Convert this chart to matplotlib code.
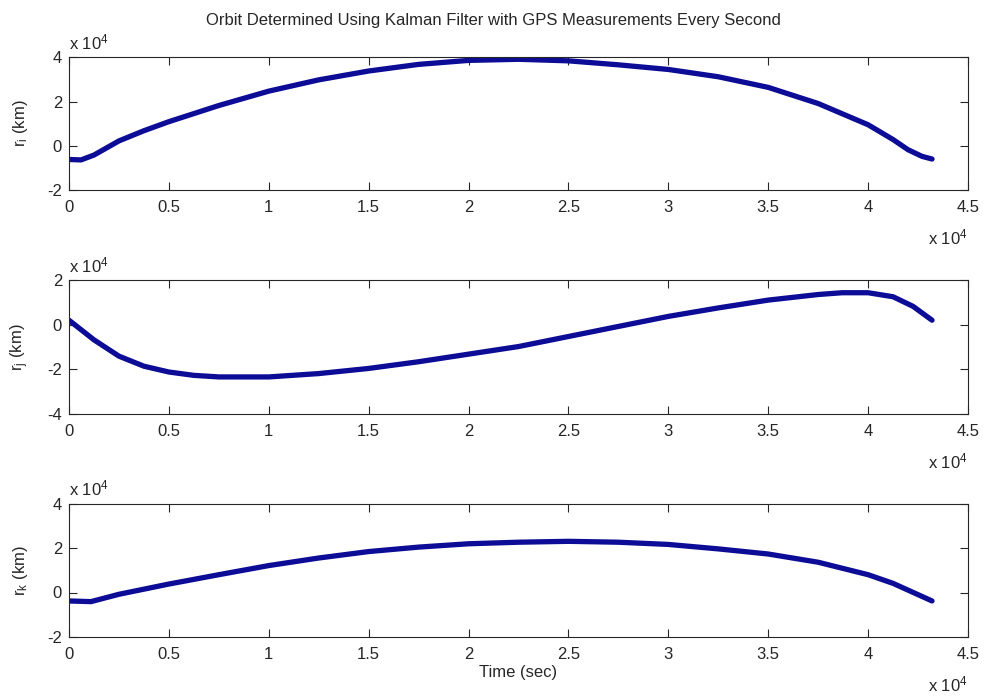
import numpy as np
import matplotlib
matplotlib.use("Agg")
import matplotlib.pyplot as plt
from matplotlib.transforms import offset_copy

plt.rcParams['font.family'] = ['Liberation Sans', 'DejaVu Sans']
plt.rcParams['mathtext.fontset'] = 'custom'
plt.rcParams['mathtext.rm'] = 'Liberation Sans'
plt.rcParams['mathtext.it'] = 'Liberation Sans'

# time in units of 1e4 s
t_i = [0.0, 0.06, 0.125, 0.25, 0.375, 0.5, 0.75, 1.0, 1.25, 1.5, 1.75, 2.0, 2.25,
       2.5, 2.75, 3.0, 3.25, 3.5, 3.75, 4.0, 4.125, 4.2, 4.27, 4.32]
r_i = [-0.62, -0.64, -0.42, 0.22, 0.68, 1.09, 1.82, 2.47, 2.98, 3.38, 3.68, 3.86, 3.91,
       3.84, 3.66, 3.45, 3.12, 2.64, 1.91, 0.95, 0.28, -0.18, -0.48, -0.6]

t_j = [0.0, 0.125, 0.25, 0.375, 0.5, 0.625, 0.75, 1.0, 1.25, 1.5, 1.75, 2.0, 2.25,
       2.5, 2.75, 3.0, 3.25, 3.5, 3.75, 3.87, 4.0, 4.125, 4.225, 4.32]
r_j = [0.2, -0.68, -1.41, -1.86, -2.12, -2.27, -2.34, -2.34, -2.19, -1.96, -1.66, -1.32, -0.98,
       -0.53, -0.08, 0.37, 0.75, 1.10, 1.35, 1.43, 1.43, 1.25, 0.82, 0.2]

t_k = [0.0, 0.11, 0.25, 0.5, 0.75, 1.0, 1.25, 1.5, 1.75, 2.0, 2.25,
       2.5, 2.75, 3.0, 3.25, 3.5, 3.75, 4.0, 4.125, 4.32]
r_k = [-0.38, -0.41, -0.08, 0.38, 0.80, 1.21, 1.55, 1.84, 2.04, 2.19, 2.26,
       2.30, 2.26, 2.16, 1.96, 1.73, 1.36, 0.80, 0.41, -0.38]

x_ticks = [0, 0.5, 1, 1.5, 2, 2.5, 3, 3.5, 4, 4.5]
x_tick_labels = ['0', '0.5', '1', '1.5', '2', '2.5', '3', '3.5', '4', '4.5']

panels = [
    (t_i, r_i, [-2, 4], [-2, 0, 2, 4], r'r$_\mathregular{i}$ (km)'),
    (t_j, r_j, [-4, 2], [-4, -2, 0, 2], r'r$_\mathregular{j}$ (km)'),
    (t_k, r_k, [-2, 4], [-2, 0, 2, 4], r'r$_\mathregular{k}$ (km)'),
]

W, H = 984, 696
fig = plt.figure(figsize=(W / 100, H / 100), dpi=100, facecolor='white')
boxes = [(57.3, 190.0), (280.0, 414.0), (503.5, 637.0)]
left, right = 69.0, 968.0
line_color = '#0c0c96'
txt_color = '#262626'
fs = 12

for (t, r, ylim, yticks, ylab), (top, bot) in zip(panels, boxes):
    ax = fig.add_axes([left / W, 1 - bot / H, (right - left) / W, (bot - top) / H])
    ax.plot(t, r, color=line_color, lw=3.8, solid_capstyle='round', solid_joinstyle='round')
    ax.set_xlim(0, 4.5)
    ax.set_ylim(*ylim)
    ax.set_xticks(x_ticks)
    ax.set_xticklabels(x_tick_labels)
    ax.set_yticks(yticks)
    ax.set_yticklabels([str(v) for v in yticks])
    ax.tick_params(axis='x', pad=7)
    ax.tick_params(axis='y', pad=5)
    ax.tick_params(direction='in', length=6, width=0.8, top=True, right=True,
                   labelsize=fs, colors=txt_color, labelcolor=txt_color)
    for s in ax.spines.values():
        s.set_linewidth(0.8)
        s.set_color(txt_color)
    fig.text(20 / W, 1 - ((top + bot) / 2) / H, ylab, rotation=90, ha='center', va='center',
             fontsize=fs, color=txt_color)
    # exponent labels
    fig.text(left / W, 1 - (top - 8) / H, r'x 10$^\mathregular{4}$', ha='left', va='baseline',
             fontsize=fs, color=txt_color)
    fig.text(right / W, 1 - (bot + 54) / H, r'x 10$^\mathregular{4}$', ha='right', va='baseline',
             fontsize=fs, color=txt_color)

fig.text((left + right) / 2 / W, 1 - 672 / H, 'Time (sec)', ha='center', va='center',
         fontsize=fs, color=txt_color)
fig.text(493 / W, 1 - 21 / H, 'Orbit Determined Using Kalman Filter with GPS Measurements Every Second',
         ha='center', va='center', fontsize=fs, color=txt_color)

fig.savefig('out.png', dpi=100, facecolor='white')
